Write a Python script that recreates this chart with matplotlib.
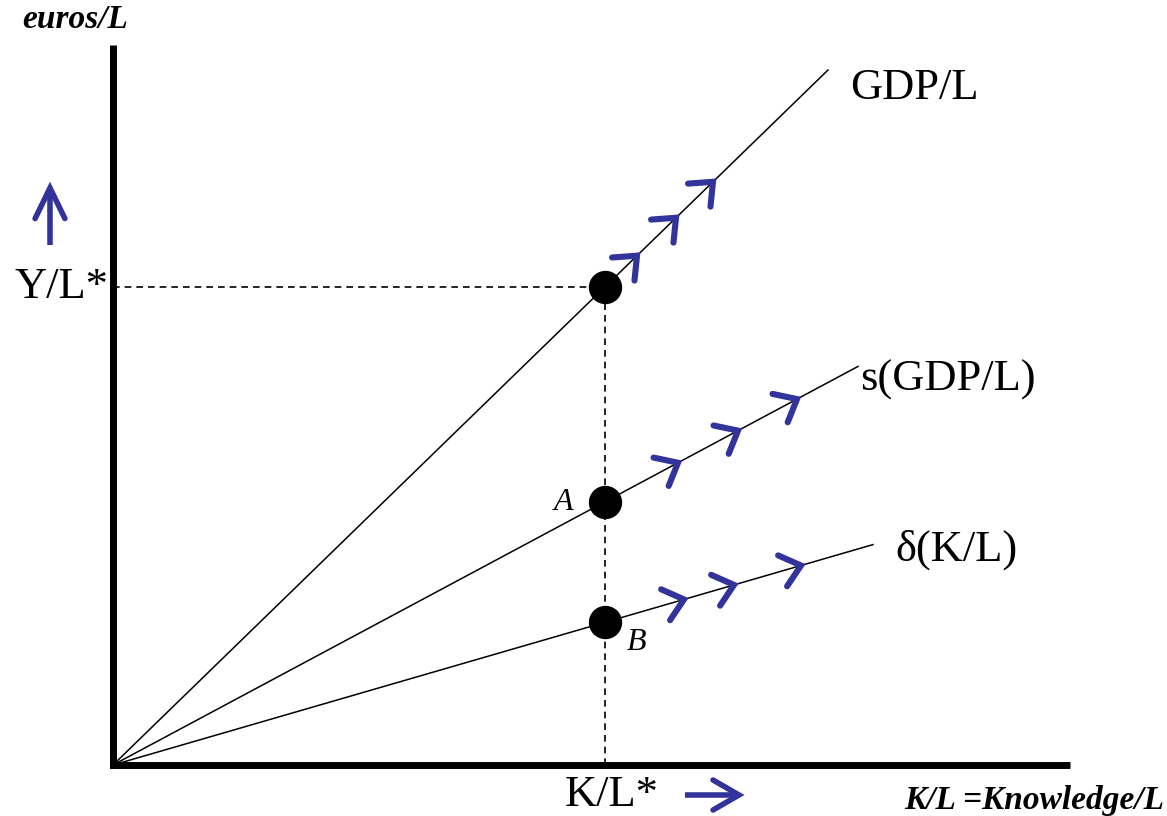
import numpy as np
import matplotlib.pyplot as plt

# curves through the origin: slope and end x (units ~ pixels from origin)
curve_names = ['GDP/L', 's(GDP/L)', 'δ(K/L)']
curve_slopes = [0.972, 0.535, 0.29]
curve_x_end = [715, 745, 760]
label_pos = [(737, 677), (747, 385), (782, 215)]
# x positions of the blue chevrons on each curve
chevron_x = [[524, 563, 600], [565, 625, 684], [571, 621, 688]]

kl_star = 492
y_axis_top = 720
x_axis_end = 957

blue = '#33339c'

plt.rcParams['font.family'] = ['Liberation Serif', 'DejaVu Serif']

fig = plt.figure(figsize=(11.67, 8.16), dpi=100)
ax = fig.add_axes([0, 0, 1, 1])
ax.set_xlim(-113, 1054)
ax.set_ylim(-51, 765)
ax.axis('off')


def chevron(tip, th, length=25, half=np.radians(40), lw=4.4):
    pts = []
    for d in (half, -half):
        a = th + np.pi + d
        pts.append(tip + length * np.array([np.cos(a), np.sin(a)]))
    ax.plot([pts[0][0], tip[0], pts[1][0]], [pts[0][1], tip[1], pts[1][1]],
            color=blue, lw=lw, solid_capstyle='round', solid_joinstyle='miter', zorder=5)


# axes
ax.plot([0, 0, x_axis_end], [y_axis_top, 0, 0], color='black', lw=5,
        solid_joinstyle='miter', solid_capstyle='butt', zorder=3)

# curves
for name, m, xe, (lx, ly) in zip(curve_names, curve_slopes, curve_x_end, label_pos):
    xs = np.array([0, xe])
    ax.plot(xs, m * xs, color='black', lw=1.1, zorder=2)
    ax.text(lx, ly, name, fontsize=32, ha='left', va='center')

# steady state guides
y_star = curve_slopes[0] * kl_star
ax.plot([0, kl_star], [y_star, y_star], color='black', lw=1.2, ls=(0, (4, 3)), zorder=1)
ax.plot([kl_star, kl_star], [0, y_star], color='black', lw=1.2, ls=(0, (4, 3)), zorder=1)

# dots
for m in curve_slopes:
    ax.plot(kl_star, m * kl_star, 'o', color='black', ms=23, zorder=4)

# chevrons along the curves
for m, xs in zip(curve_slopes, chevron_x):
    th = np.arctan(m)
    for x in xs:
        chevron(np.array([x, m * x]), th)

# labels
ax.text(-5, y_star, 'Y/L*', fontsize=32, ha='right', va='center')
ax.text(kl_star + 7, -30, 'K/L*', fontsize=32, ha='center', va='center')
ax.text(-38, 745, 'euros/L', fontsize=24, style='italic', weight='bold', ha='center', va='center')
ax.text(1051, -35, 'K/L =Knowledge/L', fontsize=24, style='italic', weight='bold',
        ha='right', va='center')
ax.text(450, 263, 'A', fontsize=23, style='italic', ha='center', va='center')
ax.text(523, 122, 'B', fontsize=23, style='italic', ha='center', va='center')

# direction arrows
ax.plot([-63, -63], [520, 575], color=blue, lw=4, solid_capstyle='butt', zorder=5)
chevron(np.array([-63, 577]), np.pi / 2, length=34, half=np.radians(26), lw=4)
ax.plot([572, 624], [-30, -30], color=blue, lw=4, solid_capstyle='butt', zorder=5)
chevron(np.array([626, -30]), 0.0, length=30, half=np.radians(30), lw=4)

fig.savefig('out.png', dpi=100)
